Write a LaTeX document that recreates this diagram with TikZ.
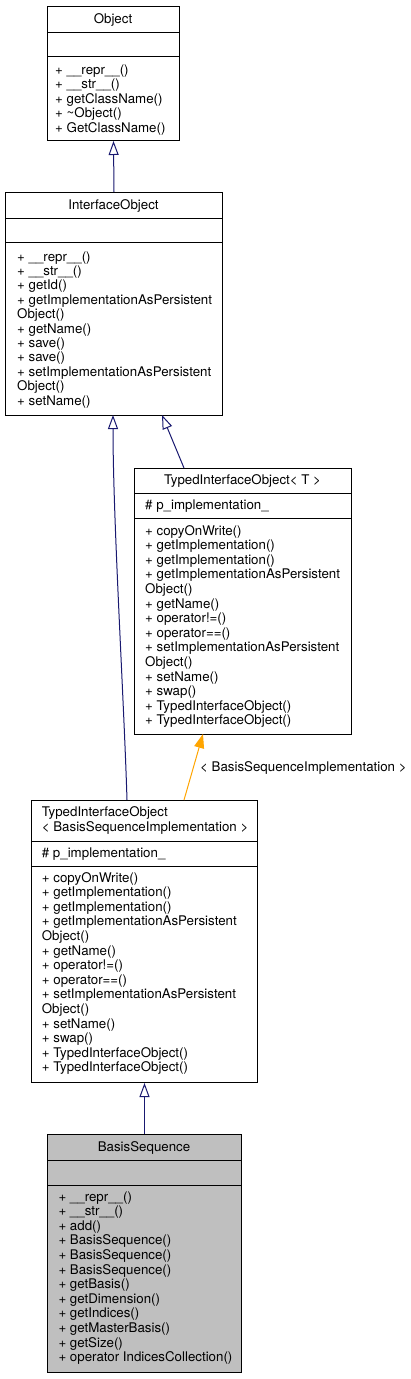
\documentclass[tikz,border=0pt]{standalone}
\usepackage{fontspec}
\setmainfont{TeX Gyre Heros}
\usetikzlibrary{arrows.meta,calc}
\definecolor{navyline}{HTML}{191970}
\definecolor{orangeline}{HTML}{FFA500}
\definecolor{curfill}{HTML}{BFBFBF}
\tikzset{
  cbox/.style={draw=black, line width=1pt, anchor=north west, inner sep=0pt, minimum width=#1},
  txt/.style={inner sep=0pt, anchor=base west, font=\fontsize{13.3}{14.5}\selectfont},
  ttl/.style={inner sep=0pt, anchor=base, font=\fontsize{13.3}{14.5}\selectfont},
  inh/.style={draw=navyline, line width=1pt, -{Triangle[open, length=14pt, width=10pt, fill=white]}},
  tmpl/.style={draw=orangeline, line width=1pt, -{Triangle[length=14pt, width=10pt]}},
}
\begin{document}
\begin{tikzpicture}[x=1pt,y=-1pt]
\fill[white] (0,0) rectangle (411,1379);
\useasboundingbox (0,0) rectangle (411,1379);

% ---------- Object ----------
\node[cbox=132, minimum height=26] (obj-t) at (47,6) {};
\node[cbox=132, minimum height=24] (obj-a) at (47,32) {};
\node[cbox=132, minimum height=84] (obj-m) at (47,56) {};
\node[ttl] (obj-n) at (113,23.5) {Object};
\foreach \t [count=\i from 0] in {+ \_\_repr\_\_(), + \_\_str\_\_(), + getClassName(), + \textasciitilde Object(), + GetClassName()}
  \node[txt] (obj-l\i) at (55,{74+14.5*\i}) {\t};

% ---------- InterfaceObject ----------
\node[cbox=217, minimum height=26] (io-t) at (5,192) {};
\node[cbox=217, minimum height=24] (io-a) at (5,218) {};
\node[cbox=217, minimum height=173] (io-m) at (5,242) {};
\node[ttl] (io-n) at (113.5,209.5) {InterfaceObject};
\foreach \t [count=\i from 0] in {+ \_\_repr\_\_(), + \_\_str\_\_(), + getId(), + getImplementationAsPersistent, Object(), + getName(), + save(), + save(), + setImplementationAsPersistent, Object(), + setName()}
  \node[txt] (io-l\i) at (17,{261+14.4*\i}) {\t};

% ---------- TypedInterfaceObject< T > ----------
\node[cbox=217, minimum height=25] (tt-t) at (134,468) {};
\node[cbox=217, minimum height=25] (tt-a) at (134,493) {};
\node[cbox=217, minimum height=216] (tt-m) at (134,518) {};
\node[ttl] (tt-n) at (242.5,484.5) {TypedInterfaceObject< T >};
\node[txt] (tt-at) at (145,509.5) {\# p\_implementation\_};
\foreach \t [count=\i from 0] in {+ copyOnWrite(), + getImplementation(), + getImplementation(), + getImplementationAsPersistent, Object(), + getName(), + operator!=(), + operator==(), + setImplementationAsPersistent, Object(), + setName(), + swap(), + TypedInterfaceObject(), + TypedInterfaceObject()}
  \node[txt] (tt-l\i) at (145,{535+14.6*\i}) {\t};

% ---------- TypedInterfaceObject< BasisSequenceImplementation > ----------
\node[cbox=226, minimum height=41] (tb-t) at (31,800) {};
\node[cbox=226, minimum height=25] (tb-a) at (31,841) {};
\node[cbox=226, minimum height=216] (tb-m) at (31,866) {};
\node[txt] (tb-n1) at (41.7,816) {TypedInterfaceObject};
\node[txt] (tb-n2) at (41.7,831) {< BasisSequenceImplementation >};
\node[txt] (tb-at) at (41.7,857.5) {\# p\_implementation\_};
\foreach \t [count=\i from 0] in {+ copyOnWrite(), + getImplementation(), + getImplementation(), + getImplementationAsPersistent, Object(), + getName(), + operator!=(), + operator==(), + setImplementationAsPersistent, Object(), + setName(), + swap(), + TypedInterfaceObject(), + TypedInterfaceObject()}
  \node[txt] (tb-l\i) at (41.7,{882+14.6*\i}) {\t};

% ---------- BasisSequence ----------
\node[cbox=194, minimum height=26, fill=curfill] (bs-t) at (47,1134) {};
\node[cbox=194, minimum height=25, fill=curfill] (bs-a) at (47,1160) {};
\node[cbox=194, minimum height=187, fill=curfill] (bs-m) at (47,1185) {};
\node[ttl] (bs-n) at (144,1151.5) {BasisSequence};
\foreach \t [count=\i from 0] in {+ \_\_repr\_\_(), + \_\_str\_\_(), + add(), + BasisSequence(), + BasisSequence(), + BasisSequence(), + getBasis(), + getDimension(), + getIndices(), + getMasterBasis(), + getSize(), + operator IndicesCollection()}
  \node[txt] (bs-l\i) at (58.3,{1201+14.6*\i}) {\t};

% ---------- connectors ----------
\coordinate (io-out2) at (162,415);
\coordinate (tt-in) at (184,468);
\coordinate (io-out1) at (113,415);
\coordinate (tb-in1) at (127,800);
\coordinate (tt-out) at (203,734);
\coordinate (tb-in2) at (184,800);

\draw[inh] (io-t.north) -- (obj-m.south);
\draw[inh] (tt-in) -- (io-out2);
\draw[inh] (tb-in1) .. controls (124,700) and (113,520) .. (io-out1);
\draw[tmpl] (tb-in2) -- (tt-out);
\node[txt] (lbl) at (200,771) {< BasisSequenceImplementation >};
\draw[inh] (bs-t.north) -- (tb-m.south);
\end{tikzpicture}
\end{document}
